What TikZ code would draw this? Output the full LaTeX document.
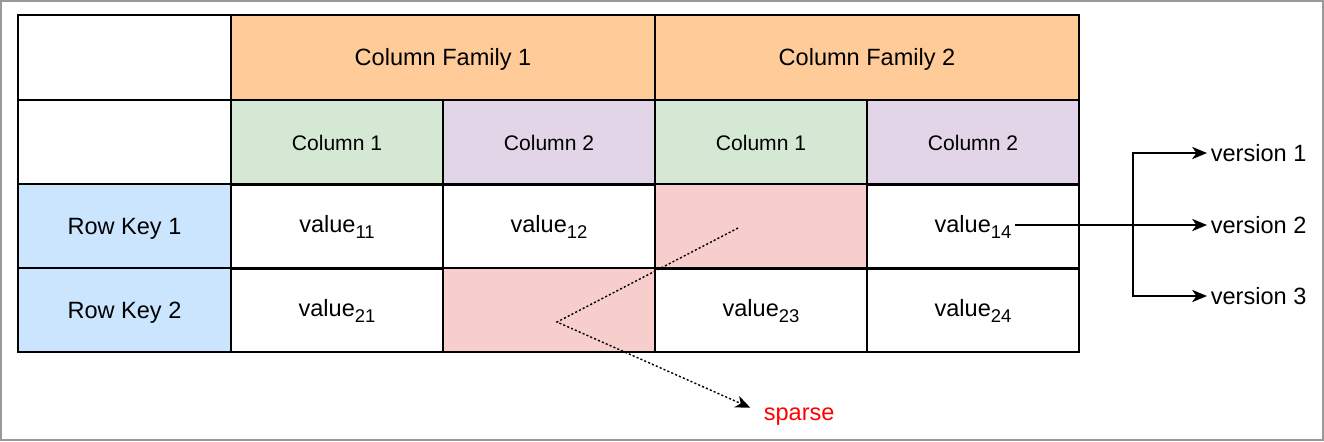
\documentclass[tikz,border=0pt]{standalone}
\usepackage{fontspec}
\setmainfont{Liberation Sans}
\usetikzlibrary{arrows.meta}

\definecolor{cforange}{HTML}{FFCC99}
\definecolor{colgreen}{HTML}{D5E8D4}
\definecolor{colpurple}{HTML}{E1D5E7}
\definecolor{rowblue}{HTML}{CCE5FF}
\definecolor{sparsered}{HTML}{F8CECC}

\newcommand{\vsub}[1]{\raisebox{-3.4pt}{\fontsize{10.5}{12}\selectfont #1}}

\begin{document}
\begin{tikzpicture}[x=0.02cm,y=-0.02cm,>={Stealth[length=8.5pt,width=7pt,inset=2.5pt]}]
  \tikzstyle{cell}=[draw=black,line width=0.9pt,minimum width=4.24cm,minimum height=1.69cm,inner sep=0pt,text height=9.6pt,text depth=0pt,font=\fontsize{13.4}{15}\selectfont]
  \tikzstyle{val}=[cell,text depth=2.4pt]
  \tikzstyle{family}=[cell,fill=cforange,minimum width=8.48cm]
  \tikzstyle{sub}=[cell,text height=8.6pt,font=\fontsize{12}{14}\selectfont]
  \tikzstyle{txt}=[inner sep=2pt,text height=9.6pt,text depth=0pt,font=\fontsize{13.4}{15}\selectfont]
  % outer frame
  \useasboundingbox (0,0) rectangle (1324,441);
  \draw[gray!80,line width=0.6pt] (1,1) rectangle (1323,440);
  % header rows
  \node[cell] (corner1) at (124.5,57.5) {};
  \node[family] (cf1) at (443,57.5) {Column Family 1};
  \node[family] (cf2) at (867,57.5) {Column Family 2};
  \node[cell] (corner2) at (124.5,142.5) {};
  \node[sub,fill=colgreen] (c11) at (337,142.5) {Column 1};
  \node[sub,fill=colpurple] (c12) at (549,142.5) {Column 2};
  \node[sub,fill=colgreen] (c21) at (761,142.5) {Column 1};
  \node[sub,fill=colpurple] (c22) at (973,142.5) {Column 2};
  % row 1
  \node[cell,fill=rowblue] (rk1) at (124.5,226.5) {Row Key 1};
  \node[val] (v11) at (337,226.5) {value\vsub{11}};
  \node[val] (v12) at (549,226.5) {value\vsub{12}};
  \node[cell,fill=sparsered] (v13) at (761,226.5) {};
  \node[cell] (v14) at (973,226.5) {};
  \node[txt,text depth=2.4pt] (t14) at (973,226.5) {value\vsub{14}};
  % row 2
  \node[cell,fill=rowblue] (rk2) at (124.5,310) {Row Key 2};
  \node[val] (v21) at (337,310) {value\vsub{21}};
  \node[cell,fill=sparsered] (v22) at (549,310) {};
  \node[val] (v23) at (761,310) {value\vsub{23}};
  \node[val] (v24) at (973,310) {value\vsub{24}};
  \draw[line width=1.4pt] (18,15) rectangle (1079,352);
  % versions
  \node[txt,anchor=west] (ver1) at (1207,153) {version 1};
  \node[txt,anchor=west] (ver2) at (1207,225) {version 2};
  \node[txt,anchor=west] (ver3) at (1207,296) {version 3};
  \coordinate (br) at (1133,225);
  \draw[->,line width=0.7pt] (t14.east |- ver2.west) -- (ver2.west);
  \draw[->,line width=0.7pt] (br) |- (ver1.west);
  \draw[->,line width=0.7pt] (br) |- (ver3.west);
  % sparse
  \node[txt,text=red,anchor=west] (sparse) at (760,412) {sparse};
  \coordinate (sp1) at (738,228);
  \coordinate (sp2) at (557,322);
  \draw[->,line width=0.8pt,dash pattern=on 1.2pt off 1.2pt,shorten >=6pt] (sp1) -- (sp2) -- (sparse.west);
\end{tikzpicture}
\end{document}
